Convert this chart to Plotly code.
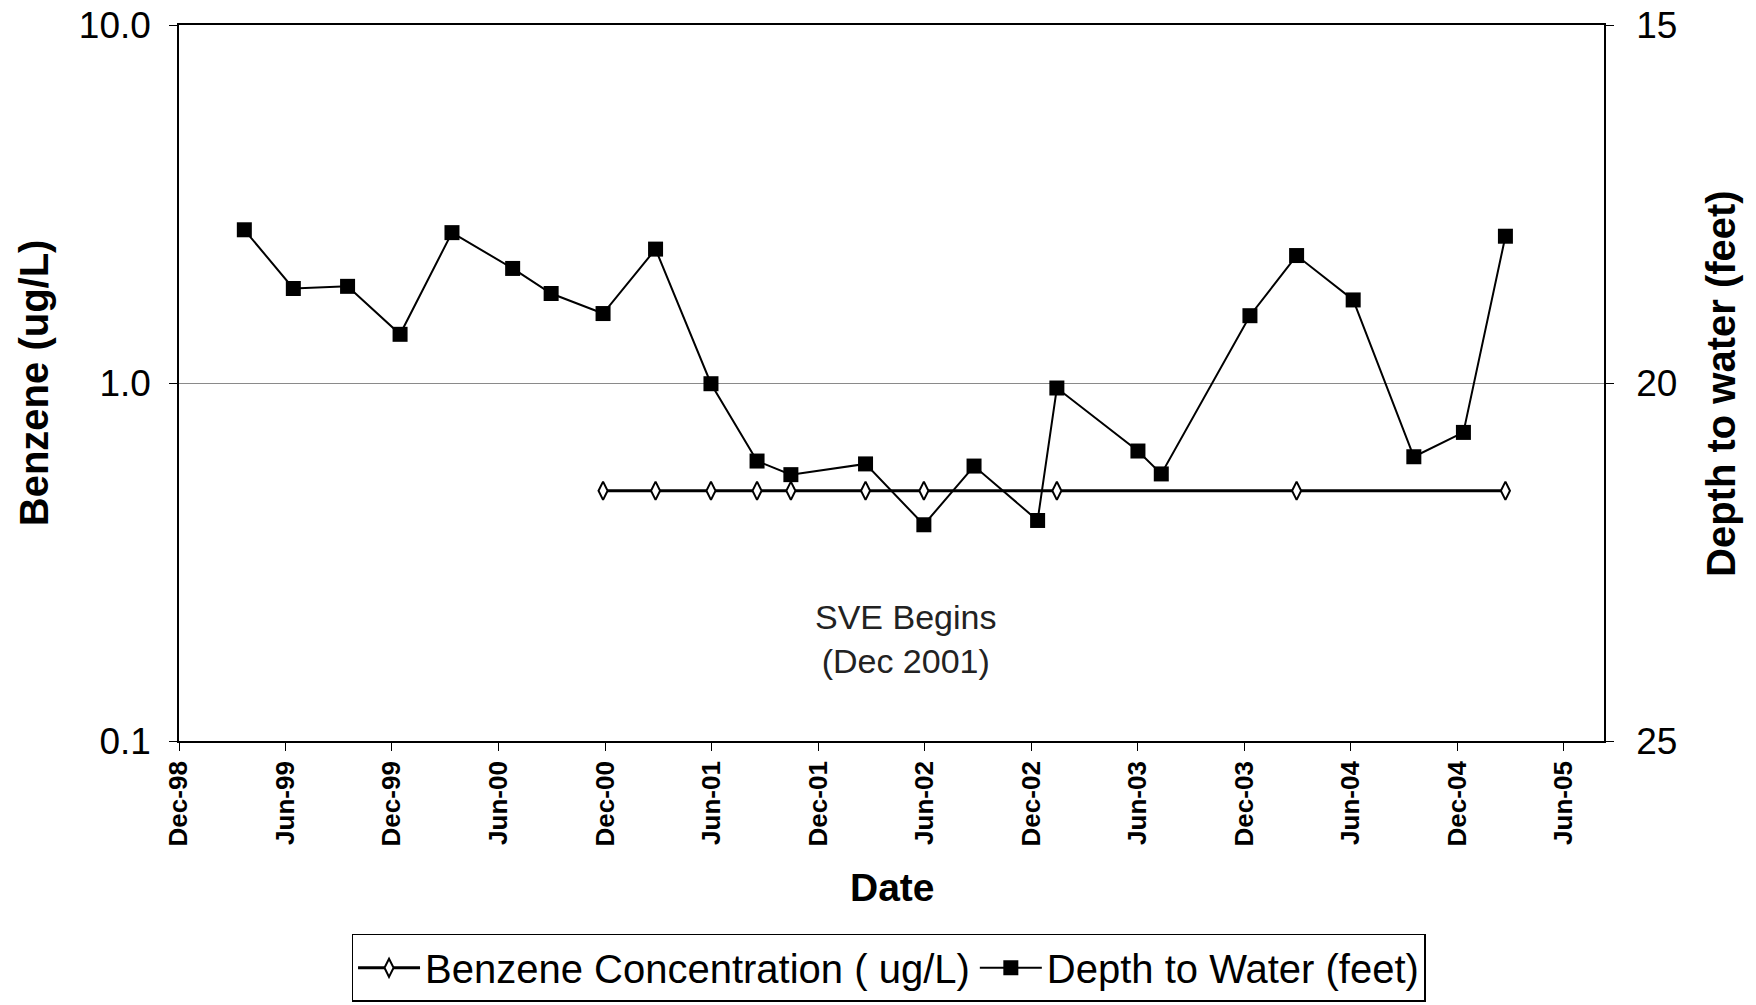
import plotly.graph_objects as go

# ---- data ----
depth_dates = ["1999-03-23", "1999-06-15", "1999-09-16", "1999-12-15", "2000-03-13",
               "2000-06-25", "2000-08-30", "2000-11-27", "2001-02-25", "2001-05-31",
               "2001-08-18", "2001-10-15", "2002-02-20", "2002-05-31", "2002-08-25",
               "2002-12-12", "2003-01-14", "2003-06-02", "2003-07-12", "2003-12-11",
               "2004-02-29", "2004-06-05", "2004-09-17", "2004-12-11", "2005-02-21"]
depth_ft = [17.86, 18.68, 18.65, 19.32, 17.90,
            18.40, 18.75, 19.03, 18.13, 20.01,
            21.09, 21.28, 21.13, 21.98, 21.16,
            21.92, 20.07, 20.95, 21.27, 19.06,
            18.22, 18.84, 21.03, 20.69, 17.95]

benzene_dates = ["2000-11-27", "2001-02-25", "2001-05-31", "2001-08-18", "2001-10-15",
                 "2002-02-20", "2002-05-31", "2003-01-14", "2004-02-29", "2005-02-21"]
benzene_ugl = [0.5, 0.5, 0.5, 0.5, 0.5, 0.5, 0.5, 0.5, 0.5, 0.5]

tick_dates = ["1998-12-01", "1999-06-01", "1999-12-01", "2000-06-01", "2000-12-01",
              "2001-06-01", "2001-12-01", "2002-06-01", "2002-12-01", "2003-06-01",
              "2003-12-01", "2004-06-01", "2004-12-01", "2005-06-01"]
tick_text = ["Dec-98", "Jun-99", "Dec-99", "Jun-00", "Dec-00", "Jun-01", "Dec-01",
             "Jun-02", "Dec-02", "Jun-03", "Dec-03", "Jun-04", "Dec-04", "Jun-05"]

left_ticks = [0.1, 1, 10]
left_tick_text = ["0.1", "1.0", "10.0"]
right_ticks = [15, 20, 25]
right_tick_text = ["15", "20", "25"]

FONT = "Liberation Sans, Arial, sans-serif"

fig = go.Figure()
fig.add_trace(go.Scatter(
    x=benzene_dates, y=benzene_ugl, name="Benzene Concentration ( ug/L)",
    mode="lines+markers", yaxis="y",
    line=dict(color="black", width=3),
    marker=dict(symbol="diamond-tall", size=13, color="white",
                line=dict(color="black", width=2)),
))
fig.add_trace(go.Scatter(
    x=depth_dates, y=depth_ft, name="Depth to Water (feet)",
    mode="lines+markers", yaxis="y2",
    line=dict(color="black", width=2),
    marker=dict(symbol="square", size=15, color="black"),
))

fig.update_layout(
    width=1756, height=1005,
    margin=dict(l=179, r=152, t=25, b=264),
    paper_bgcolor="white", plot_bgcolor="white",
    font=dict(family=FONT, color="black"),
    showlegend=True,
    legend=dict(orientation="h", xref="container", yref="container",
                x=0.506, xanchor="center", y=0.037, yanchor="middle",
                bordercolor="black", borderwidth=1.5,
                font=dict(size=40, family=FONT), itemwidth=62),
    xaxis=dict(type="date", range=["1998-12-01", "2005-08-09"],
               tickmode="array", tickvals=tick_dates, ticktext=tick_text,
               tickangle=-90, tickfont=dict(size=26, weight="bold", family=FONT),
               ticks="outside", ticklen=8, tickcolor="black", tickwidth=1,
               ticklabelstandoff=0, automargin=False, ticklabeloverflow="allow",
               showline=True, linecolor="black", linewidth=1.5, mirror=True,
               showgrid=False, zeroline=False),
    yaxis=dict(type="log", range=[-1, 1], tickmode="array",
               tickvals=left_ticks, ticktext=left_tick_text,
               tickfont=dict(size=37, family=FONT),
               ticks="outside", ticklen=8, tickcolor="black",
               ticklabelstandoff=11, automargin=False, ticklabeloverflow="allow",
               showline=True, linecolor="black", linewidth=1.5,
               showgrid=True, gridcolor="#8a8a8a", gridwidth=1.2, zeroline=False),
    yaxis2=dict(overlaying="y", side="right", range=[25, 15], tickmode="array",
                tickvals=right_ticks, ticktext=right_tick_text,
                tickfont=dict(size=37, family=FONT),
                ticks="outside", ticklen=8, tickcolor="black",
                ticklabelstandoff=15, automargin=False, ticklabeloverflow="allow",
                showline=True, linecolor="black", linewidth=1.5,
                showgrid=False, zeroline=False),
    annotations=[
        dict(text="<b>Benzene (ug/L)</b>", xref="paper", yref="paper",
             x=-0.1018, y=0.501, xanchor="center", yanchor="middle",
             textangle=-90, showarrow=False, font=dict(size=40, family=FONT)),
        dict(text="<b>Depth to water (feet)</b>", xref="paper", yref="paper",
             x=1.0821, y=0.5, xanchor="center", yanchor="middle",
             textangle=-90, showarrow=False, font=dict(size=40, family=FONT)),
        dict(text="<b>Date</b>", xref="paper", yref="paper",
             x=0.501, y=-0.2046, xanchor="center", yanchor="middle",
             showarrow=False, font=dict(size=39, family=FONT)),
        dict(text="SVE Begins<br>(Dec 2001)", xref="paper", yref="paper",
             x=0.5095, y=0.1425, xanchor="center", yanchor="middle",
             showarrow=False, font=dict(size=34, family=FONT, color="#222222")),
    ],
)

# remove the default 8px page margin so the figure fills the window exactly
fig.write_html("out.html",
               config={"displayModeBar": False},
               post_script="document.body.style.margin='0';document.body.style.overflow='hidden';")
